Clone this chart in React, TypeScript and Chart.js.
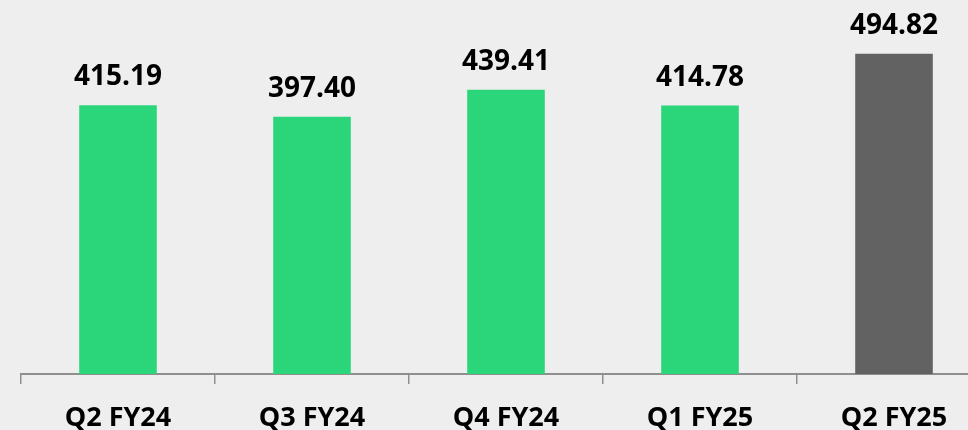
import React, { useEffect, useRef } from "react";
import { Chart, registerables } from "chart.js";

Chart.register(...registerables);

const categories = ["Q2 FY24", "Q3 FY24", "Q4 FY24", "Q1 FY25", "Q2 FY25"];
const values = [415.19, 397.4, 439.41, 414.78, 494.82];
const barColors = ["#2bd67b", "#2bd67b", "#2bd67b", "#2bd67b", "#626262"];

const FONT = "'Open Sans', 'DejaVu Sans', sans-serif";

const valueLabels = {
  id: "valueLabels",
  afterDatasetsDraw(chart: any) {
    const ctx = chart.ctx;
    const meta = chart.getDatasetMeta(0);
    ctx.save();
    ctx.font = `bold 28px ${FONT}`;
    ctx.fillStyle = "#000";
    ctx.textAlign = "center";
    ctx.textBaseline = "alphabetic";
    meta.data.forEach((bar: any, i: number) => {
      ctx.fillText(values[i].toFixed(2), bar.x, bar.y - 20);
    });
    ctx.restore();
  },
};

export default function App() {
  const ref = useRef<HTMLCanvasElement | null>(null);
  useEffect(() => {
    if (!ref.current) return;
    const chart = new Chart(ref.current, {
      type: "bar",
      data: {
        labels: categories,
        datasets: [
          {
            data: values,
            backgroundColor: barColors,
            categoryPercentage: 1,
            barPercentage: 0.4,
          },
        ],
      },
      options: {
        animation: false,
        responsive: false,
        maintainAspectRatio: false,
        layout: { padding: { left: 21, right: 0, top: 0, bottom: 0 } },
        plugins: { legend: { display: false }, tooltip: { enabled: false } },
        scales: {
          y: { display: false, min: 0, max: 578 },
          x: {
            offset: true,
            grid: {
              offset: true,
              drawOnChartArea: false,
              drawTicks: true,
              tickLength: 10,
              color: "#8f8f8f",
              lineWidth: 1.5,
            },
            border: { display: true, color: "#8f8f8f", width: 2 },
            ticks: {
              color: "#000",
              font: { family: FONT, size: 27, weight: "bold" },
              padding: 18,
              maxRotation: 0,
              autoSkip: false,
            },
            afterFit(scale: any) {
              scale.height = 56;
            },
          },
        },
      },
      plugins: [valueLabels],
    });
    return () => chart.destroy();
  }, []);
  return (
    <div
      style={{
        position: "fixed",
        left: 0,
        top: 0,
        width: 968,
        height: 430,
        overflow: "hidden",
        background: "#eeeeee",
      }}
    >
      <canvas ref={ref} width={991} height={430} style={{ display: "block", width: 991, height: 430 }} />
    </div>
  );
}
